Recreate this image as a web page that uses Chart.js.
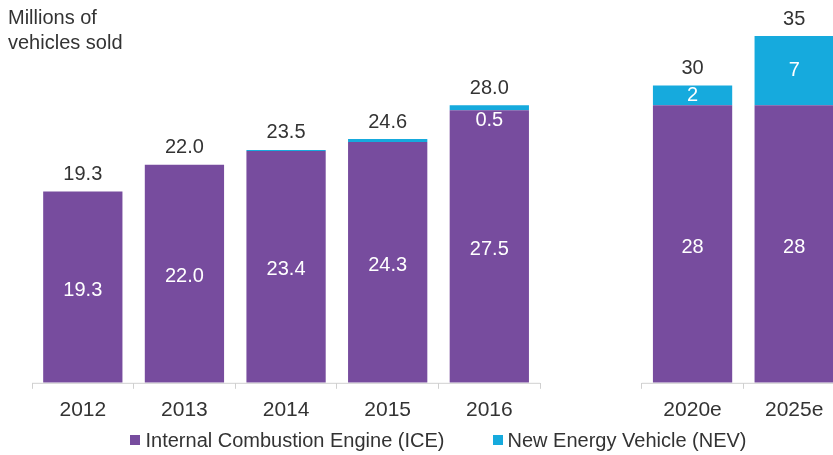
<!DOCTYPE html>
<html>
<head>
<meta charset="utf-8">
<script src="https://cdn.jsdelivr.net/npm/chart.js@4.4.1/dist/chart.umd.min.js"></script>
<style>
  html, body { margin: 0; padding: 0; background: #fff; overflow: hidden; }
  body { width: 833px; height: 455px; position: relative; font-family: "Liberation Sans", Arial, sans-serif; }
  #wrap { position: absolute; left: 0; top: 0; width: 860px; height: 455px; }
  #title { position: absolute; left: 8px; top: 5px; font-size: 20px; line-height: 25px; color: #333; }
  #legend { position: absolute; left: 0; top: 429px; width: 877px; display: flex; justify-content: center; gap: 48px; font-size: 20px; color: #333; }
  #legend span.box { display: inline-block; width: 10px; height: 10px; margin-right: 5px; vertical-align: 2px; }
</style>
</head>
<body>
<div id="wrap"><canvas id="chart"></canvas></div>
<div id="title">Millions of<br>vehicles sold</div>
<div id="legend"></div>
<script>
// Chart data (blank category keeps the gap between 2016 and the estimates)
const years = ["2012", "2013", "2014", "2015", "2016", "", "2020e", "2025e"];
const iceSales = [19.3, 22.0, 23.4, 24.3, 27.5, null, 28, 28];
const nevSales = [0, 0, 0.1, 0.3, 0.5, null, 2, 7];
const totalSales = [19.3, 22.0, 23.5, 24.6, 28.0, null, 30, 35];

const purple = "#774c9e";
const blue = "#16aadd";

const fmt = (v, i) => years[i].endsWith("e") ? v.toFixed(0) : v.toFixed(1);

// Draw values on the bars
const valueLabels = {
  id: "valueLabels",
  afterDatasetsDraw(chart) {
    const ctx = chart.ctx;
    const ice = chart.getDatasetMeta(0).data;
    const nev = chart.getDatasetMeta(1).data;
    ctx.save();
    ctx.font = "20px 'Liberation Sans', Arial, sans-serif";
    ctx.textAlign = "center";
    ctx.textBaseline = "middle";
    years.forEach((y, i) => {
      if (iceSales[i] == null) return;
      const a = ice[i];
      ctx.fillStyle = "#fff";
      ctx.fillText(fmt(iceSales[i], i), a.x, (a.y + a.base) / 2 + 3);
      const b = nev[i];
      if (nevSales[i] >= 0.5) {
        const h = b.base - b.y;
        const yy = h < 16 ? b.base + 10 : (b.y + b.base) / 2;
        ctx.fillText(fmt(nevSales[i], i), b.x, yy);
      }
      ctx.fillStyle = "#333";
      ctx.fillText(fmt(totalSales[i], i), b.x, b.y - 17);
    });
    ctx.restore();
  }
};

// Base line, broken where the blank category is
const baseLine = {
  id: "baseLine",
  afterDatasetsDraw(chart) {
    const ctx = chart.ctx;
    const x = chart.scales.x;
    const half = (x.getPixelForValue(1) - x.getPixelForValue(0)) / 2;
    const yb = chart.chartArea.bottom + 0.5;
    ctx.save();
    ctx.strokeStyle = "#d0d0d0";
    ctx.lineWidth = 1;
    years.forEach((y, i) => {
      if (!y) return;
      const c = x.getPixelForValue(i);
      ctx.beginPath();
      ctx.moveTo(c - half, yb);
      ctx.lineTo(c + half, yb);
      ctx.stroke();
    });
    ctx.restore();
  }
};

const chart = new Chart(document.getElementById("chart"), {
  type: "bar",
  data: {
    labels: years,
    datasets: [
      { label: "Internal Combustion Engine (ICE)", data: iceSales, backgroundColor: purple },
      { label: "New Energy Vehicle (NEV)", data: nevSales, backgroundColor: blue }
    ]
  },
  options: {
    responsive: true,
    maintainAspectRatio: false,
    animation: false,
    layout: { padding: { left: 32, right: 15, top: 36, bottom: 23 } },
    datasets: { bar: { categoryPercentage: 1, barPercentage: 0.78 } },
    scales: {
      x: {
        stacked: true,
        grid: { drawOnChartArea: false, tickLength: 6, color: "#d0d0d0" },
        border: { display: false },
        ticks: { color: "#333", padding: 9, font: { size: 21, family: "'Liberation Sans', Arial, sans-serif" } }
      },
      y: { stacked: true, display: false, min: 0, max: 35 }
    },
    plugins: {
      legend: { display: false },
      tooltip: { enabled: false }
    }
  },
  plugins: [valueLabels, baseLine]
});

// HTML legend built from the datasets
document.getElementById("legend").innerHTML = chart.data.datasets
  .map(d => `<div><span class="box" style="background:${d.backgroundColor}"></span>${d.label}</div>`)
  .join("");
</script>
</body>
</html>
